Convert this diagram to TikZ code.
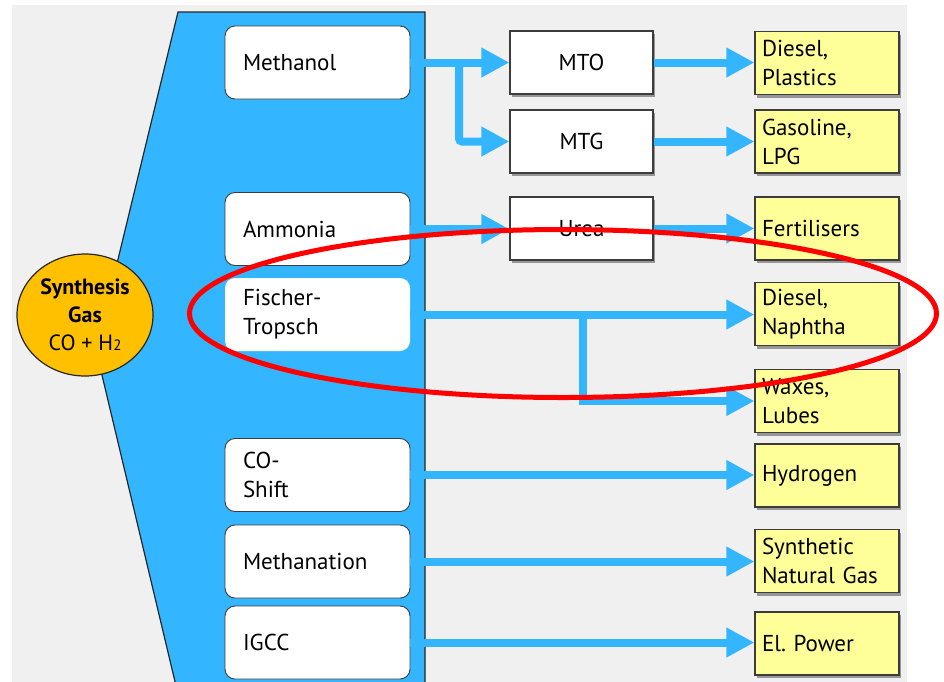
\documentclass[tikz,border=0pt]{standalone}
\usepackage{fontspec}
\setmainfont{PT Sans}
\usetikzlibrary{arrows.meta,shadows,shapes.geometric}

\definecolor{flowblue}{RGB}{51,182,255}
\definecolor{bggray}{RGB}{240,240,240}
\definecolor{gasorange}{RGB}{255,192,0}
\definecolor{prodyellow}{RGB}{255,255,153}
\definecolor{edgegray}{RGB}{60,60,60}
\definecolor{shadowgray}{RGB}{150,150,150}

\begin{document}
\begin{tikzpicture}[x=1pt,y=-1pt,
  font=\fontsize{23}{29}\selectfont,
  routebox/.style={draw=edgegray, line width=0.9pt, fill=white, rounded corners=10pt,
    minimum height=73pt, text width=149pt, inner xsep=18pt, inner ysep=0pt, align=left},
  procbox/.style={draw=edgegray, line width=1.2pt, fill=white,
    minimum width=143pt, minimum height=63pt, inner sep=0pt, align=center,
    drop shadow={shadow xshift=1.5pt, shadow yshift=-3pt, fill=shadowgray, opacity=1}},
  prodbox/.style={draw=edgegray, line width=1.2pt, fill=prodyellow,
    minimum height=63pt, text width=130pt, inner xsep=7pt, inner ysep=0pt, align=left,
    drop shadow={shadow xshift=1.5pt, shadow yshift=-3pt, fill=shadowgray, opacity=1}},
  flow/.style={draw=flowblue, line width=8pt,
    -{Triangle[length=28pt,width=28pt]}},
]
\useasboundingbox (0,0) rectangle (944,681);

% page background
\fill[bggray] (12,5) rectangle (907,690);

% blue funnel behind the route boxes
\fill[flowblue, draw=black!85, line width=1.2pt]
  (178,12) -- (425,12) -- (425,690) -- (177,690) -- (96,350) -- cycle;

% synthesis gas source
\node[ellipse, draw=black!85, line width=1.2pt, fill=gasorange,
  minimum width=136pt, minimum height=122pt, inner sep=0pt, align=center,
  font=\fontsize{22}{28}\selectfont] (gas) at (85,315)
  {\textbf{Synthesis}\\\textbf{Gas}\\CO + H{\fontsize{15}{15}\selectfont 2}};

% conversion routes
\node[routebox] (meth)   at (317.5,62.5)  {Methanol};
\node[routebox] (ammo)   at (317.5,229)   {Ammonia};
\node[routebox, draw=none] (ft) at (317.5,314.5) {Fischer-\\Tropsch};
\node[routebox] (shift)  at (317.5,475)   {CO-\\Shift};
\node[routebox] (mthn)   at (317.5,561.5) {Methanation};
\node[routebox] (igcc)   at (317.5,642.5) {IGCC};

% intermediate processes
\node[procbox] (mto)  at (581.5,62.5)  {MTO};
\node[procbox] (mtg)  at (581.5,141.5) {MTG};
\node[procbox] (urea) at (581.5,228.5) {Urea};

% products
\node[prodbox] (dp)   at (827,63)    {Diesel,\\Plastics};
\node[prodbox] (gl)   at (827,141.5) {Gasoline,\\LPG};
\node[prodbox] (fert) at (827,228.5) {Fertilisers};
\node[prodbox] (dn)   at (827,314)   {Diesel,\\Naphtha};
\node[prodbox] (wl)   at (827,401)   {Waxes,\\Lubes};
\node[prodbox] (hyd)  at (827,475.5) {Hydrogen};
\node[prodbox] (sng)  at (827,561)   {Synthetic\\Natural Gas};
\node[prodbox] (elp)  at (827,643.5) {El.\ Power};

% branch points
\coordinate (mbr) at (459,62.5);
\coordinate (fbr) at (583,314.5);

% flows
\draw[flow] (meth.east) -- (meth.east -| mto.west);
\draw[flow, rounded corners=3pt] (mbr) |- (mtg.west);
\draw[flow] (ammo.east) -- (ammo.east -| urea.west);
\draw[flow] (mto.east) -- (mto.east -| dp.west);
\draw[flow] (mtg.east) -- (mtg.east -| gl.west);
\draw[flow] (urea.east) -- (urea.east -| fert.west);
\draw[flow] (ft.east) -- (ft.east -| dn.west);
\draw[flow] (fbr) |- (wl.west);
\draw[flow] (shift.east) -- (shift.east -| hyd.west);
\draw[flow] (mthn.east) -- (mthn.east -| sng.west);
\draw[flow] (igcc.east) -- (igcc.east -| elp.west);

% highlight around the Fischer-Tropsch route
\draw[red, line width=5pt] (563,313.5) ellipse [x radius=373.5pt, y radius=84pt];
\end{tikzpicture}
\end{document}
